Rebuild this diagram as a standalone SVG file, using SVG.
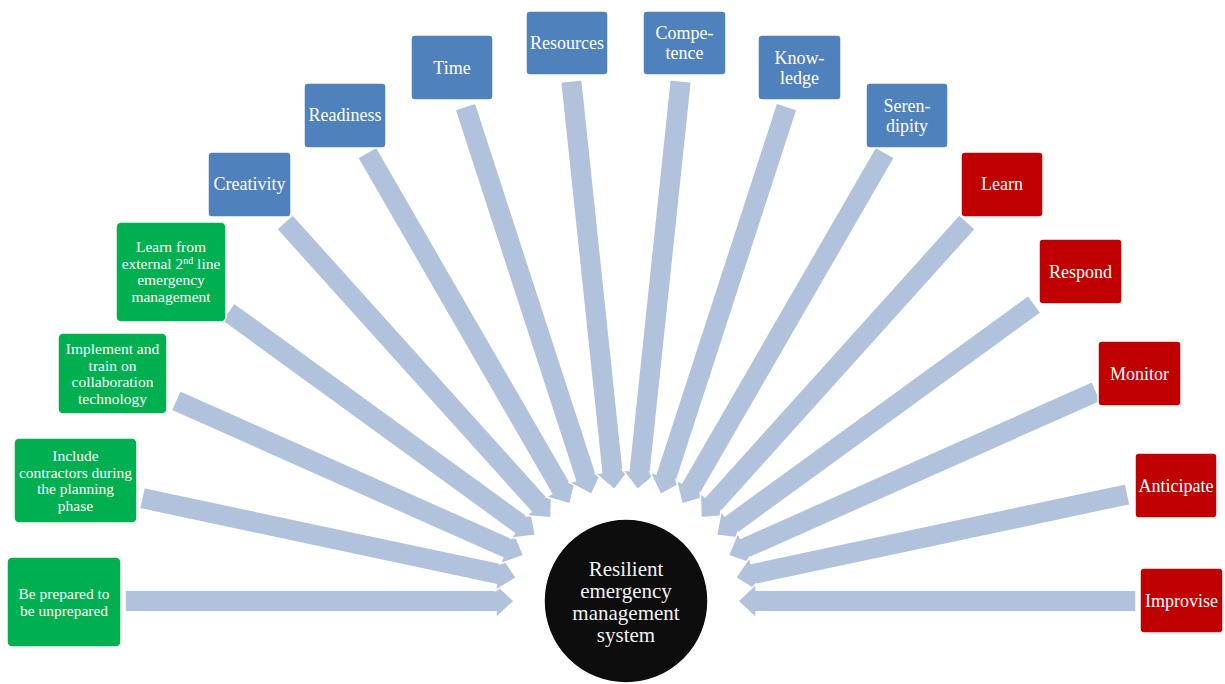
<svg xmlns="http://www.w3.org/2000/svg" width="1225" height="684" viewBox="0 0 1225 684">
<style>
.arrow{fill:#B1C2DD;stroke:#fff;stroke-width:1.5;stroke-linejoin:miter}
.box{stroke:#fff;stroke-width:1.5}
.blue{fill:#4F81BD}
.green{fill:#00B050}
.red{fill:#C00000}
.t{font-family:"Liberation Serif","Times New Roman",serif;fill:#fff;text-anchor:middle}
.big{font-size:18px}
.small{font-size:15.5px}
.hub{font-size:21px;fill:#f2f2f2}
</style>
<rect width="1225" height="684" fill="#fff"/>
<g id="connectors">
<path class="arrow" transform="translate(626 601) rotate(0) translate(-112 0)" d="M-389,-10.8 L-18,-10.8 L-18,-17 L0,0 L-18,17 L-18,10.8 L-389,10.8 Z"/>
<path class="arrow" transform="translate(626 601) rotate(12) translate(-112 0)" d="M-383,-10.8 L-18,-10.8 L-18,-17 L0,0 L-18,17 L-18,10.8 L-383,10.8 Z"/>
<path class="arrow" transform="translate(626 601) rotate(24) translate(-112 0)" d="M-381,-10.8 L-18,-10.8 L-18,-17 L0,0 L-18,17 L-18,10.8 L-381,10.8 Z"/>
<path class="arrow" transform="translate(626 601) rotate(36) translate(-112 0)" d="M-380,-10.8 L-18,-10.8 L-18,-17 L0,0 L-18,17 L-18,10.8 L-380,10.8 Z"/>
<path class="arrow" transform="translate(626 601) rotate(48) translate(-112 0)" d="M-398,-10.8 L-18,-10.8 L-18,-17 L0,0 L-18,17 L-18,10.8 L-398,10.8 Z"/>
<path class="arrow" transform="translate(626 601) rotate(60) translate(-112 0)" d="M-406,-10.8 L-18,-10.8 L-18,-17 L0,0 L-18,17 L-18,10.8 L-406,10.8 Z"/>
<path class="arrow" transform="translate(626 601) rotate(72) translate(-112 0)" d="M-408,-10.8 L-18,-10.8 L-18,-17 L0,0 L-18,17 L-18,10.8 L-408,10.8 Z"/>
<path class="arrow" transform="translate(626 601) rotate(84) translate(-112 0)" d="M-411,-10.8 L-18,-10.8 L-18,-17 L0,0 L-18,17 L-18,10.8 L-411,10.8 Z"/>
<path class="arrow" transform="translate(626 601) rotate(96) translate(-112 0)" d="M-411,-10.8 L-18,-10.8 L-18,-17 L0,0 L-18,17 L-18,10.8 L-411,10.8 Z"/>
<path class="arrow" transform="translate(626 601) rotate(108) translate(-112 0)" d="M-408,-10.8 L-18,-10.8 L-18,-17 L0,0 L-18,17 L-18,10.8 L-408,10.8 Z"/>
<path class="arrow" transform="translate(626 601) rotate(120) translate(-112 0)" d="M-406,-10.8 L-18,-10.8 L-18,-17 L0,0 L-18,17 L-18,10.8 L-406,10.8 Z"/>
<path class="arrow" transform="translate(626 601) rotate(132) translate(-112 0)" d="M-398,-10.8 L-18,-10.8 L-18,-17 L0,0 L-18,17 L-18,10.8 L-398,10.8 Z"/>
<path class="arrow" transform="translate(626 601) rotate(144) translate(-112 0)" d="M-393,-10.8 L-18,-10.8 L-18,-17 L0,0 L-18,17 L-18,10.8 L-393,10.8 Z"/>
<path class="arrow" transform="translate(626 601) rotate(156) translate(-112 0)" d="M-403,-10.8 L-18,-10.8 L-18,-17 L0,0 L-18,17 L-18,10.8 L-403,10.8 Z"/>
<path class="arrow" transform="translate(626 601) rotate(168) translate(-112 0)" d="M-401,-10.8 L-18,-10.8 L-18,-17 L0,0 L-18,17 L-18,10.8 L-401,10.8 Z"/>
<path class="arrow" transform="translate(626 601) rotate(180) translate(-112 0)" d="M-398,-10.8 L-18,-10.8 L-18,-17 L0,0 L-18,17 L-18,10.8 L-398,10.8 Z"/>
</g>
<g id="hub">
<circle cx="626" cy="601" r="82" fill="#0d0d0d" stroke="#fff" stroke-width="1.5"/>
<text class="t hub" x="626" y="576">Resilient</text>
<text class="t hub" x="626" y="598">emergency</text>
<text class="t hub" x="626" y="620">management</text>
<text class="t hub" x="626" y="642">system</text>
</g>
<g id="be-prepared">
<rect class="box green" x="7" y="557" width="114" height="90" rx="5"/>
<text class="t small" x="64" y="599">Be prepared to</text>
<text class="t small" x="64" y="616">be unprepared</text>
</g>
<g id="include-contractors">
<rect class="box green" x="14" y="438" width="123" height="85" rx="5"/>
<text class="t small" x="75.5" y="461">Include</text>
<text class="t small" x="75.5" y="478">contractors during</text>
<text class="t small" x="75.5" y="494">the planning</text>
<text class="t small" x="75.5" y="511">phase</text>
</g>
<g id="implement-train">
<rect class="box green" x="58" y="333" width="109" height="81" rx="5"/>
<text class="t small" x="112.5" y="354">Implement and</text>
<text class="t small" x="112.5" y="371">train on</text>
<text class="t small" x="112.5" y="387">collaboration</text>
<text class="t small" x="112.5" y="404">technology</text>
</g>
<g id="learn-external">
<rect class="box green" x="116" y="222" width="110" height="100" rx="5"/>
<text class="t small" x="171" y="252">Learn from</text>
<text class="t small" x="171" y="269">external 2<tspan font-size="10" dy="-5">nd</tspan><tspan dy="5"> line</tspan></text>
<text class="t small" x="171" y="285">emergency</text>
<text class="t small" x="171" y="302">management</text>
</g>
<g id="creativity">
<rect class="box blue" x="208" y="152" width="83" height="65" rx="4"/>
<text class="t big" x="249.5" y="190">Creativity</text>
</g>
<g id="readiness">
<rect class="box blue" x="304" y="83" width="82" height="65" rx="4"/>
<text class="t big" x="345" y="121">Readiness</text>
</g>
<g id="time">
<rect class="box blue" x="411" y="35" width="82" height="65" rx="4"/>
<text class="t big" x="452" y="74">Time</text>
</g>
<g id="resources">
<rect class="box blue" x="526" y="11" width="82" height="64" rx="4"/>
<text class="t big" x="567" y="49">Resources</text>
</g>
<g id="competence">
<rect class="box blue" x="643" y="11" width="83" height="64" rx="4"/>
<text class="t big" x="684.5" y="39">Compe-</text>
<text class="t big" x="684.5" y="59">tence</text>
</g>
<g id="knowledge">
<rect class="box blue" x="758" y="35" width="83" height="65" rx="4"/>
<text class="t big" x="799.5" y="64">Know-</text>
<text class="t big" x="799.5" y="84">ledge</text>
</g>
<g id="serendipity">
<rect class="box blue" x="866" y="83" width="82" height="65" rx="4"/>
<text class="t big" x="907" y="112">Seren-</text>
<text class="t big" x="907" y="132">dipity</text>
</g>
<g id="learn">
<rect class="box red" x="961" y="152" width="82" height="65" rx="4"/>
<text class="t big" x="1002" y="190">Learn</text>
</g>
<g id="respond">
<rect class="box red" x="1039" y="239" width="83" height="65" rx="4"/>
<text class="t big" x="1080.5" y="278">Respond</text>
</g>
<g id="monitor">
<rect class="box red" x="1098" y="341" width="83" height="65" rx="4"/>
<text class="t big" x="1139.5" y="380">Monitor</text>
</g>
<g id="anticipate">
<rect class="box red" x="1135" y="453" width="82" height="65" rx="4"/>
<text class="t big" x="1176" y="492">Anticipate</text>
</g>
<g id="improvise">
<rect class="box red" x="1140" y="568" width="83" height="65" rx="4"/>
<text class="t big" x="1181.5" y="607">Improvise</text>
</g>
</svg>
